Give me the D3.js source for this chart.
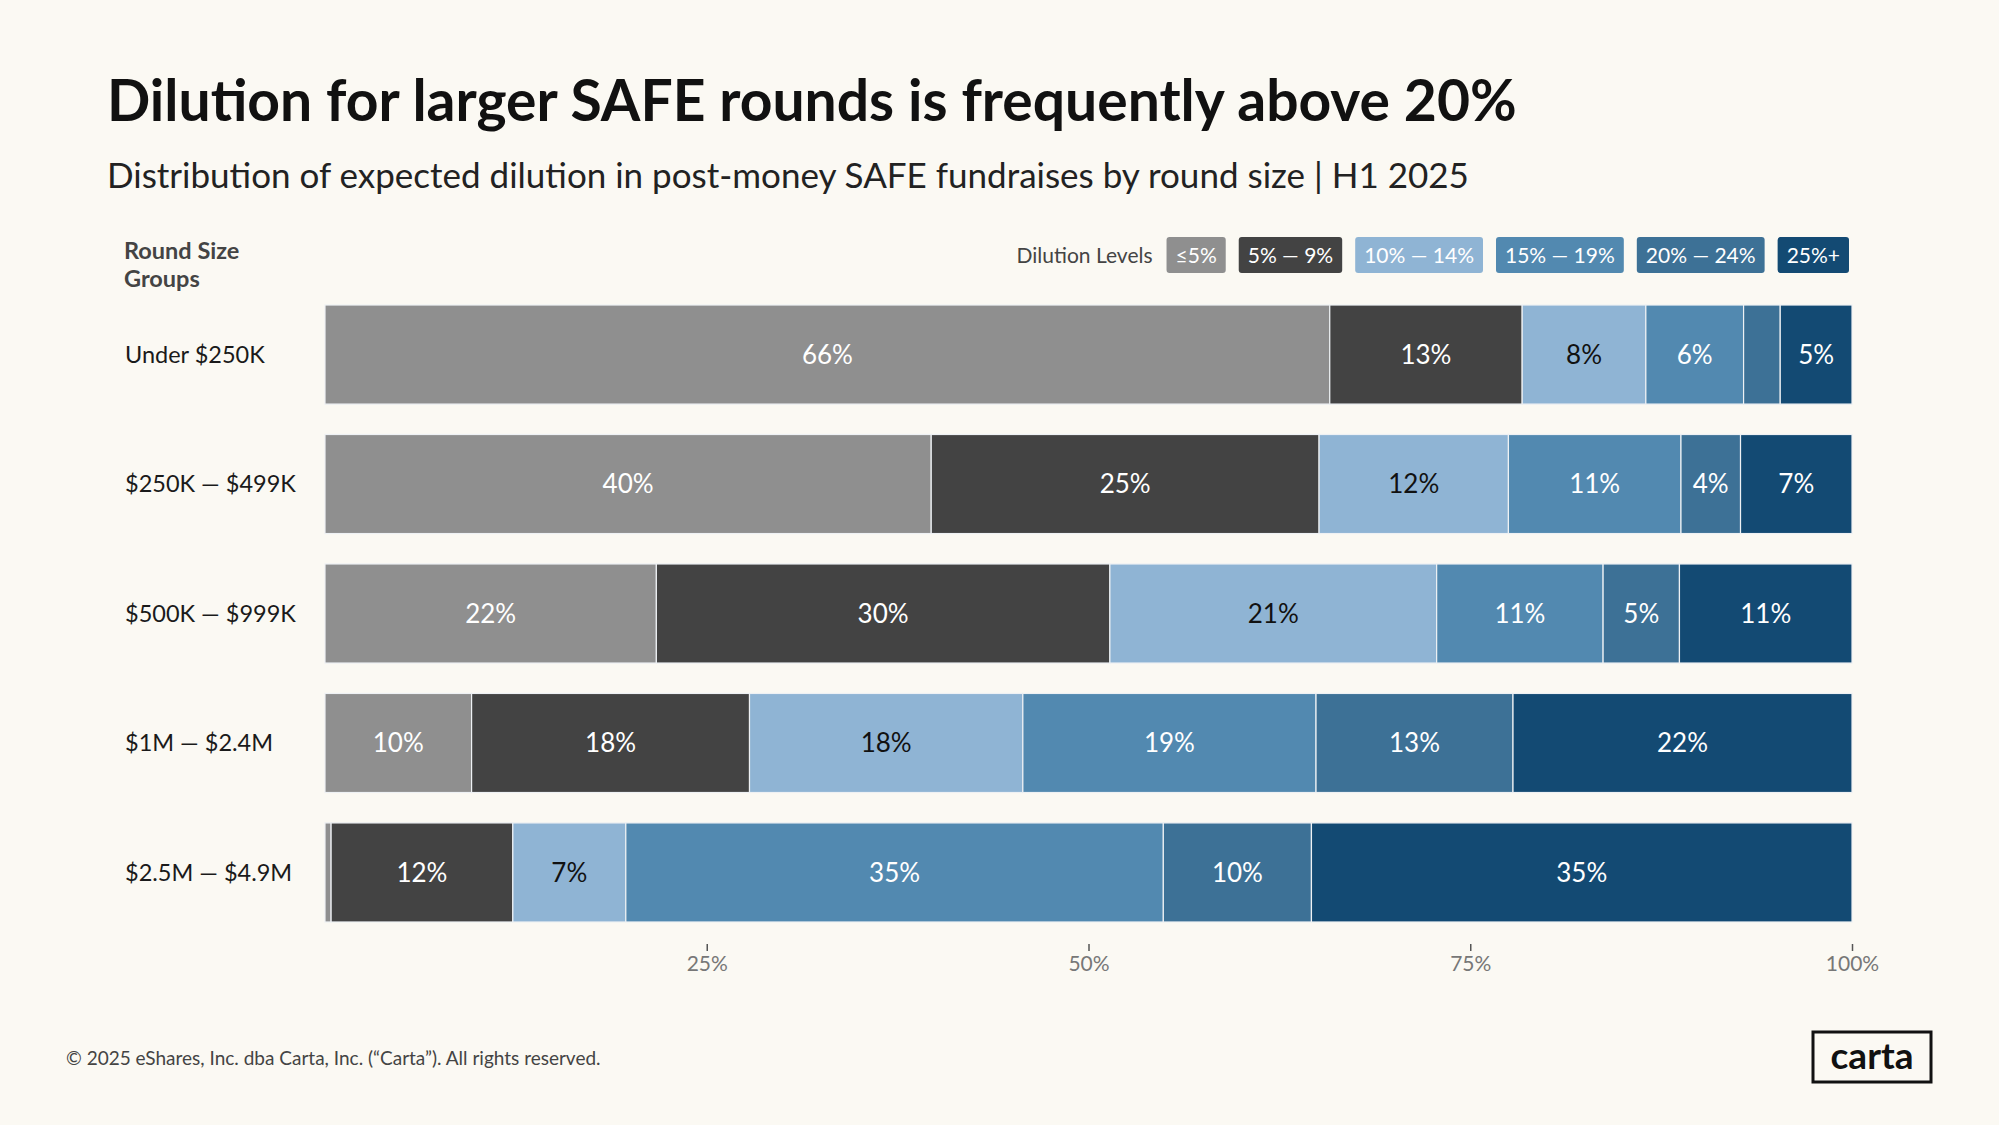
<!DOCTYPE html>
<html>
<head>
<meta charset="utf-8">
<script src="https://cdn.jsdelivr.net/npm/d3@7"></script>
<style>
  html, body { margin: 0; padding: 0; background: #fbf9f3; }
  svg { display: block; }
  text { font-family: "Lato", "Noto Sans", sans-serif; }
</style>
</head>
<body>
<svg id="chart" width="1999" height="1125"></svg>
<script>
// ---- Data ----
const categories = ["Under $250K", "$250K — $499K", "$500K — $999K", "$1M — $2.4M", "$2.5M — $4.9M"];
const levels = ["≤5%", "5% — 9%", "10% — 14%", "15% — 19%", "20% — 24%", "25%+"];
const seriesLe5   = [65.8, 39.7, 21.7,  9.6,  0.4];
const series5to9  = [12.6, 25.4, 29.7, 18.2, 11.9];
const series10to14= [ 8.1, 12.4, 21.4, 17.9,  7.4];
const series15to19= [ 6.4, 11.3, 10.9, 19.2, 35.2];
const series20to24= [ 2.4,  3.9,  5.0, 12.9,  9.7];
const series25plus= [ 4.7,  7.3, 11.3, 22.2, 35.4];
const tickValues = [25, 50, 75, 100];
const tickLabels = ["25%", "50%", "75%", "100%"];

const seriesList = [seriesLe5, series5to9, series10to14, series15to19, series20to24, series25plus];
const colors = ["#8f8f8f", "#434343", "#8fb4d4", "#5289b0", "#3d7196", "#134a73"];
const labelColors = ["#ffffff", "#ffffff", "#111111", "#ffffff", "#ffffff", "#ffffff"];

const table = categories.map((c, i) => {
  const row = { category: c };
  levels.forEach((l, j) => row[l] = seriesList[j][i]);
  return row;
});

const svg = d3.select("#chart");
const W = 1999, H = 1125;
svg.append("rect").attr("width", W).attr("height", H).attr("fill", "#fbf9f3");

// ---- Titles ----
svg.append("text").attr("x", 107).attr("y", 121)
  .attr("font-size", 57).attr("font-weight", 700).attr("fill", "#111")
  .text("Dilution for larger SAFE rounds is frequently above 20%");
svg.append("text").attr("x", 107).attr("y", 188)
  .attr("font-size", 35).attr("font-weight", 400).attr("fill", "#222")
  .text("Distribution of expected dilution in post-money SAFE fundraises by round size | H1 2025");

// ---- Scales ----
const x = d3.scaleLinear().domain([0, 100]).range([325, 1852]);
const y = d3.scaleBand().domain(categories).range([305 - 15.2, 922 + 15.2]).paddingInner(0.235).paddingOuter(0.1175);

const stack = d3.stack().keys(levels)(table);

const g = svg.append("g");
stack.forEach((layer, j) => {
  const lg = g.append("g");
  lg.selectAll("rect").data(layer).join("rect")
    .attr("x", d => x(d[0]))
    .attr("y", d => y(d.data.category))
    .attr("width", d => Math.max(0, x(d[1]) - x(d[0])))
    .attr("height", y.bandwidth())
    .attr("fill", colors[j])
    .attr("stroke", "#eef1f4").attr("stroke-width", 1.2);
  lg.selectAll("text").data(layer.filter(d => (d[1] - d[0]) >= 3)).join("text")
    .attr("x", d => (x(d[0]) + x(d[1])) / 2)
    .attr("y", d => y(d.data.category) + y.bandwidth() / 2)
    .attr("dy", "0.36em")
    .attr("text-anchor", "middle")
    .attr("font-size", 26).attr("font-weight", 400)
    .attr("fill", labelColors[j])
    .text(d => Math.round(d[1] - d[0]) + "%");
});

// ---- Category labels ----
svg.append("g").selectAll("text").data(categories).join("text")
  .attr("x", 125)
  .attr("y", d => y(d) + y.bandwidth() / 2)
  .attr("dy", "0.36em")
  .attr("font-size", 23.5).attr("fill", "#1a1a1a")
  .text(d => d);

svg.append("text").attr("x", 124).attr("y", 259)
  .attr("font-size", 23.5).attr("font-weight", 700).attr("fill", "#444")
  .text("Round Size");
svg.append("text").attr("x", 124).attr("y", 287)
  .attr("font-size", 23.5).attr("font-weight", 700).attr("fill", "#444")
  .text("Groups");

// ---- Axis ----
const axis = d3.axisBottom(x).tickValues(tickValues).tickSize(7).tickPadding(5)
  .tickFormat((d, i) => tickLabels[i]);
const ax = svg.append("g").attr("transform", "translate(0,944)").call(axis);
ax.select(".domain").remove();
ax.selectAll(".tick line").attr("stroke", "#555").attr("stroke-width", 1.5);
ax.selectAll(".tick text").attr("font-size", 21).attr("fill", "#777")
  .style("font-family", "Lato, sans-serif");

// ---- Legend ----
const legend = svg.append("g");
const boxH = 36, boxY = 237, gap = 13, pad = 9;
let right = 1849;
const items = levels.map((l, j) => ({ l, j })).reverse();
items.forEach(({ l, j }) => {
  const t = legend.append("text").attr("font-size", 21).attr("fill", "#fff")
    .attr("y", boxY + boxH / 2).attr("dy", "0.36em").attr("text-anchor", "middle").text(l);
  const tw = t.node().getComputedTextLength();
  const bw = tw + pad * 2;
  const bx = right - bw;
  legend.insert("rect", "text").attr("x", bx).attr("y", boxY).attr("width", bw).attr("height", boxH)
    .attr("rx", 3).attr("fill", colors[j]);
  t.attr("x", bx + bw / 2);
  right = bx - gap;
});
legend.append("text").attr("x", right - 1).attr("y", boxY + boxH / 2).attr("dy", "0.36em")
  .attr("text-anchor", "end").attr("font-size", 21).attr("fill", "#444").text("Dilution Levels");

// ---- Footer ----
svg.append("text").attr("x", 66).attr("y", 1065)
  .attr("font-size", 19).attr("fill", "#444")
  .text("© 2025 eShares, Inc. dba Carta, Inc. (“Carta”). All rights reserved.");

svg.append("rect").attr("x", 1813).attr("y", 1032).attr("width", 118).attr("height", 50)
  .attr("fill", "none").attr("stroke", "#111").attr("stroke-width", 3);
svg.append("text").attr("x", 1872).attr("y", 1056).attr("dy", "0.36em")
  .attr("text-anchor", "middle").attr("font-size", 37).attr("font-weight", 700).attr("fill", "#111")
  .text("carta");
</script>
</body>
</html>
